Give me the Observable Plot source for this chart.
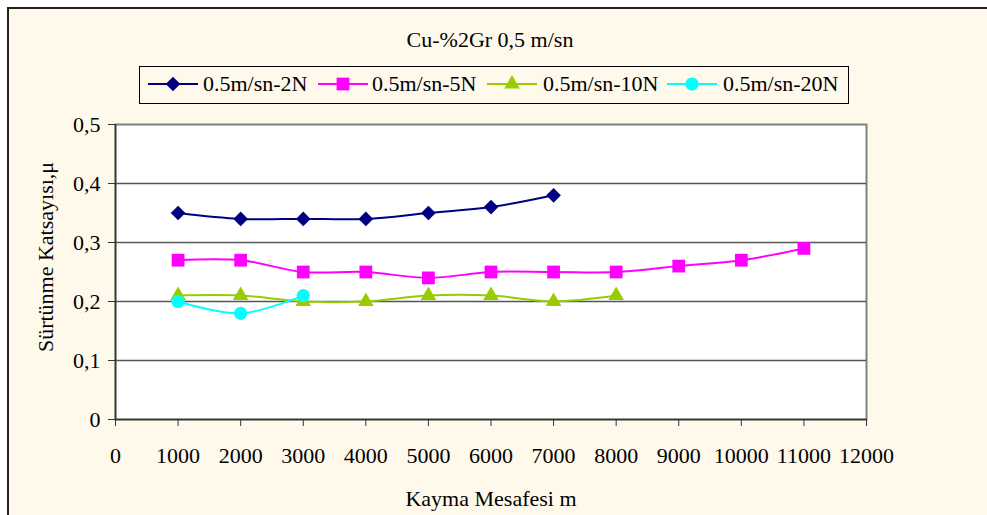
<!DOCTYPE html>
<html><head><meta charset="utf-8">
<script src="https://cdn.jsdelivr.net/npm/d3@7"></script>
<script src="https://cdn.jsdelivr.net/npm/@observablehq/plot@0.6"></script>
<style>
body{margin:0;background:#fff;}
#chart{position:relative;width:987px;height:515px;overflow:hidden;background:#fff;font-family:"Liberation Serif","Times New Roman",serif;color:#000;}
#frame{position:absolute;left:7px;top:7px;width:1200px;height:800px;border-left:2px solid #222;border-top:2px solid #222;background:#FFF9EC;}
#title{position:absolute;left:0;width:980px;top:27px;text-align:center;font-size:22px;line-height:26px;white-space:nowrap;}
#legend{position:absolute;left:139px;top:66px;width:710px;height:38px;box-sizing:border-box;border:1.5px solid #000;}
.lg-sym{position:absolute;top:73px;}
.lg-txt{position:absolute;top:71px;font-size:22px;line-height:26px;white-space:nowrap;}
#plot{position:absolute;left:0;top:110px;}
</style>
</head><body>
<div id="chart">
  <div id="frame"></div>
  <div id="title"></div>
  <div id="legend"></div>
  <div id="plot"></div>
</div>
<script>
// ---- data ----
const title = "Cu-%2Gr 0,5 m/sn";
const xTitle = "Kayma Mesafesi m";
const yTitle = "Sürtünme Katsayısı,μ";
const distance = [1000, 2000, 3000, 4000, 5000, 6000, 7000, 8000, 9000, 10000, 11000];
const seriesNames = ["0.5m/sn-2N", "0.5m/sn-5N", "0.5m/sn-10N", "0.5m/sn-20N"];
const s2N  = [0.35, 0.34, 0.34, 0.34, 0.35, 0.36, 0.38];
const s5N  = [0.27, 0.27, 0.25, 0.25, 0.24, 0.25, 0.25, 0.25, 0.26, 0.27, 0.29];
const s10N = [0.21, 0.21, 0.20, 0.20, 0.21, 0.21, 0.20, 0.21];
const s20N = [0.20, 0.18, 0.21];
const xTicks = [0, 1000, 2000, 3000, 4000, 5000, 6000, 7000, 8000, 9000, 10000, 11000, 12000];
const yTicks = [0, 0.1, 0.2, 0.3, 0.4, 0.5];
const gridTicks = [0.1, 0.2, 0.3, 0.4];

// ---- styles ----
const colors = ["#000080", "#FF00FF", "#99CC00", "#00FFFF"];
const symbols = ["diamond2", "square", "triangle", "circle"];
const radii = [6.6, 7.2, 5.8, 6.6];
const allValues = [s2N, s5N, s10N, s20N];

const rows = [];
allValues.forEach((vals, si) => vals.forEach((v, i) => rows.push({series: seriesNames[si], x: distance[i], y: v})));

document.getElementById("title").textContent = title;

const marks = [
  Plot.frame({fill: "white", stroke: "#808080", strokeWidth: 2}),
  Plot.gridY(gridTicks, {stroke: "#555", strokeOpacity: 1, strokeWidth: 1.5}),
  Plot.axisX({ticks: xTicks, tickFormat: d => String(d), tickSize: 7, tickPadding: 21, label: null, stroke: "#333"}),
  Plot.axisY({ticks: yTicks, tickFormat: d => String(d).replace(".", ","), tickSize: 7, tickPadding: 8, label: null, stroke: "#333"}),
  Plot.ruleX([0], {stroke: "#333", strokeWidth: 1.5}),
  Plot.ruleY([0], {stroke: "#333", strokeWidth: 1.5})
];
seriesNames.forEach((name, si) => {
  const d = rows.filter(r => r.series === name);
  marks.push(Plot.line(d, {x: "x", y: "y", stroke: colors[si], strokeWidth: 2, curve: "catmull-rom"}));
  marks.push(Plot.dot(d, {x: "x", y: "y", symbol: symbols[si], fill: colors[si], r: radii[si]}));
});
marks.push(Plot.text([yTitle], {frameAnchor: "left", textAnchor: "middle", lineAnchor: "middle", rotate: -90, dx: -70, dy: -15}));
marks.push(Plot.text([xTitle], {frameAnchor: "bottom", textAnchor: "middle", lineAnchor: "middle", dy: 79}));

const chart = Plot.plot({
  width: 987, height: 405,
  marginLeft: 115, marginRight: 121, marginTop: 14, marginBottom: 96,
  style: {background: "transparent", fontFamily: "'Liberation Serif', 'Times New Roman', serif", fontSize: "22px", color: "#000", overflow: "visible"},
  x: {type: "linear", domain: [0, 12000]},
  y: {type: "linear", domain: [0, 0.5]},
  marks
});
document.getElementById("plot").appendChild(chart);

// ---- legend ----
const lineStarts = [148, 318, 487, 667];
const textStarts = [203, 372, 543, 723];
const chartDiv = document.getElementById("chart");
const d3sym = {diamond2: d3.symbolDiamond2, square: d3.symbolSquare, triangle: d3.symbolTriangle, circle: d3.symbolCircle};
seriesNames.forEach((name, si) => {
  const svg = d3.create("svg").attr("class", "lg-sym").attr("width", 52).attr("height", 22)
    .style("left", lineStarts[si] + "px");
  svg.append("line").attr("x1", 0).attr("x2", 50).attr("y1", 11).attr("y2", 11)
    .attr("stroke", colors[si]).attr("stroke-width", 2);
  svg.append("path").attr("transform", "translate(25,11)")
    .attr("d", d3.symbol(d3sym[symbols[si]], Math.PI * radii[si] * radii[si])())
    .attr("fill", colors[si]);
  chartDiv.appendChild(svg.node());
  const t = document.createElement("span");
  t.className = "lg-txt";
  t.style.left = textStarts[si] + "px";
  t.textContent = name;
  chartDiv.appendChild(t);
});
</script>
</body></html>
